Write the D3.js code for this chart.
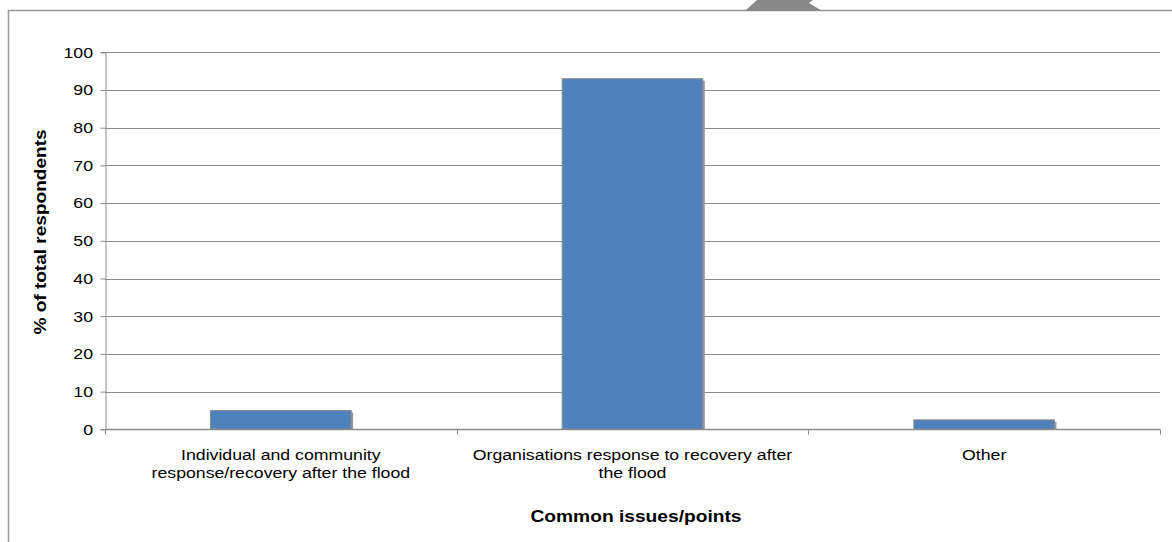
<!DOCTYPE html>
<html>
<head>
<meta charset="utf-8">
<script src="https://cdn.jsdelivr.net/npm/d3@7"></script>
<style>
  html, body { margin: 0; padding: 0; background: #fff; }
  svg { display: block; font-family: "Liberation Sans", Arial, sans-serif; }
</style>
</head>
<body>
<svg id="chart" width="1172" height="542"></svg>
<script>
// Share of respondents by common issue raised
const categories = [
  ["Individual and community", "response/recovery after the flood"],
  ["Organisations response to recovery after", "the flood"],
  ["Other"]
];
const categoryKeys = ["individual", "organisations", "other"];
const values = [5, 93, 2.5];
const yTicks = [0, 10, 20, 30, 40, 50, 60, 70, 80, 90, 100];

const svg = d3.select("#chart");
const gridColor = "#8c8c8c";
const stretch = 1.18; // wide text setting used throughout the chart

// Outer frame (open on the right and bottom)
svg.append("path")
  .attr("d", "M8.5,542 L8.5,10.5 L1172,10.5")
  .attr("fill", "none")
  .attr("stroke", "#999")
  .attr("stroke-width", 1.5);

// Grey shape overlapping the top frame edge
svg.append("path")
  .attr("d", "M745,11 L757,0 L813,0 L809,3 L822,11 Z")
  .attr("fill", "#888");

const left = 105, right = 1160;
const y = d3.scaleLinear().domain([0, 100]).range([429.3, 52.3]);
const x = d3.scaleBand().domain(categoryKeys).range([left, right])
  .paddingInner(0.6).paddingOuter(0.3);
const xEdges = d3.scaleLinear().domain([0, categoryKeys.length]).range([left, right]);

// Horizontal gridlines
svg.append("g").selectAll("line").data(yTicks.filter(d => d > 0)).join("line")
  .attr("x1", left).attr("x2", right)
  .attr("y1", d => Math.round(y(d)) + 0.5).attr("y2", d => Math.round(y(d)) + 0.5)
  .attr("stroke", gridColor).attr("stroke-width", 1);

// Y axis
const yAxis = svg.append("g")
  .attr("transform", `translate(${left + 0.5},0)`)
  .call(d3.axisLeft(y).tickValues(yTicks).tickSize(5).tickPadding(7));
yAxis.selectAll("path, line").attr("stroke", gridColor);
yAxis.selectAll("text")
  .attr("font-size", 15).attr("fill", "#000")
  .attr("font-family", "Liberation Sans, Arial, sans-serif")
  .attr("x", 0)
  .attr("transform", `translate(-12.5,0) scale(${stretch},1)`);

// Bars with a slight offset shadow
const bars = svg.append("g");
bars.selectAll("rect.shadow").data(values).join("rect")
  .attr("class", "shadow")
  .attr("x", (d, i) => x(categoryKeys[i]) + 2)
  .attr("y", d => y(d) + 2)
  .attr("width", x.bandwidth())
  .attr("height", d => y(0) - y(d) - 2)
  .attr("fill", "#9a9a9a");
bars.selectAll("rect.bar").data(values).join("rect")
  .attr("class", "bar")
  .attr("x", (d, i) => x(categoryKeys[i]))
  .attr("y", d => y(d))
  .attr("width", x.bandwidth())
  .attr("height", d => y(0) - y(d))
  .attr("fill", "#4F81BD")
  .attr("stroke", "#8c8c8c")
  .attr("stroke-width", 1);

// X axis baseline and category ticks
const base = Math.round(y(0)) + 0.5;
svg.append("line")
  .attr("x1", left).attr("x2", right)
  .attr("y1", base).attr("y2", base)
  .attr("stroke", gridColor).attr("stroke-width", 1.5);
svg.append("g").selectAll("line").data(d3.range(categoryKeys.length + 1)).join("line")
  .attr("x1", d => Math.round(xEdges(d)) + 0.5).attr("x2", d => Math.round(xEdges(d)) + 0.5)
  .attr("y1", base).attr("y2", base + 5)
  .attr("stroke", gridColor);

// Category labels
const labels = svg.append("g").selectAll("text").data(categories).join("text")
  .attr("text-anchor", "middle")
  .attr("font-size", 15)
  .attr("fill", "#000")
  .attr("transform", (d, i) =>
    `translate(${x(categoryKeys[i]) + x.bandwidth() / 2},${base + 30}) scale(${stretch},1)`);
labels.selectAll("tspan").data(d => d).join("tspan")
  .attr("x", 0)
  .attr("dy", (d, i) => i === 0 ? 0 : 19)
  .text(d => d);

// Axis titles
svg.append("text")
  .attr("transform", `translate(636,522) scale(${stretch + 0.02},1)`)
  .attr("text-anchor", "middle")
  .attr("font-size", 16).attr("font-weight", "bold")
  .text("Common issues/points");
svg.append("text")
  .attr("transform", `translate(46,232) rotate(-90) scale(${stretch + 0.01},1)`)
  .attr("text-anchor", "middle")
  .attr("font-size", 16).attr("font-weight", "bold")
  .text("% of total respondents");
</script>
</body>
</html>
